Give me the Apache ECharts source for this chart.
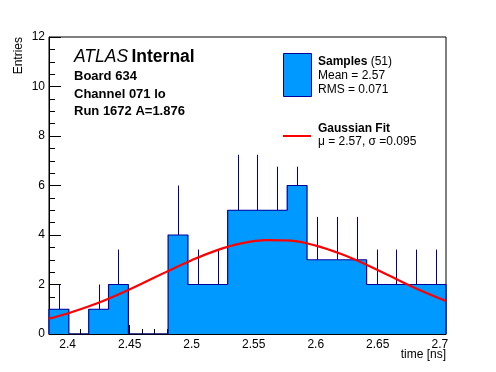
<!DOCTYPE html>
<html><head><meta charset="utf-8">
<script src="https://cdn.jsdelivr.net/npm/echarts@6/dist/echarts.min.js"></script>
<style>html,body{margin:0;padding:0;background:#fff}#c{width:496px;height:372px}</style>
</head><body><div id="c"></div>
<script>
// ---- data ----
var binEdges = [2.385, 2.401, 2.417, 2.433, 2.449, 2.465, 2.481, 2.497, 2.513, 2.529, 2.545,
                2.561, 2.577, 2.593, 2.609, 2.625, 2.641, 2.657, 2.673, 2.689, 2.705];
var counts   = [1, 0, 1, 2, 0, 0, 4, 2, 2, 5, 5, 5, 6, 3, 3, 3, 2, 2, 2, 2];
var errTop   = [2, 0, 2, 3.41, 0, 0, 6, 3.41, 3.41, 7.24, 7.24, 6.76, 6.76, 4.73, 4.73, 4.73, 3.41, 3.41, 3.41, 3.41];
var fitX = [2.385, 2.40, 2.42, 2.44, 2.46, 2.48, 2.50, 2.52, 2.54, 2.56, 2.58, 2.60, 2.62, 2.64, 2.66, 2.68, 2.705];
var fitY = [0.62, 0.83, 1.17, 1.58, 2.04, 2.52, 2.98, 3.38, 3.66, 3.79, 3.77, 3.57, 3.24, 2.82, 2.34, 1.86, 1.33];
var xMajorTicks = [2.4, 2.45, 2.5, 2.55, 2.6, 2.65, 2.7];
var xMinorTicks = [2.39, 2.41, 2.42, 2.43, 2.44, 2.46, 2.47, 2.48, 2.49, 2.51, 2.52, 2.53, 2.54,
                   2.56, 2.57, 2.58, 2.59, 2.61, 2.62, 2.63, 2.64, 2.66, 2.67, 2.68, 2.69];
var xMin = 2.385, xMax = 2.705, yMin = 0, yMax = 12, yStep = 2;

var FONT = "'Liberation Sans', Arial, Helvetica, sans-serif";
var FILL = '#0099ff', EDGE = '#000099';

var barData = [], outline = [[binEdges[0], 0]], errData = [];
for (var i = 0; i < counts.length; i++) {
  barData.push([binEdges[i], binEdges[i + 1], counts[i]]);
  outline.push([binEdges[i], counts[i]]);
  if (errTop[i] > counts[i]) errData.push([(binEdges[i] + binEdges[i + 1]) / 2, counts[i], errTop[i]]);
}
outline.push([binEdges[binEdges.length - 1], counts[counts.length - 1]]);
outline.push([binEdges[binEdges.length - 1], 0]);
var fitData = fitX.map(function (x, k) { return [x, fitY[k]]; });

var chart = echarts.init(document.getElementById('c'), null, {renderer: 'canvas'});
chart.setOption({
  animation: false,
  grid: {left: 49, top: 37, width: 397, height: 297, show: true, borderColor: '#000', borderWidth: 1, backgroundColor: 'transparent'},
  xAxis: [{
    type: 'value', min: xMin, max: xMax, position: 'bottom',
    axisLine: {show: true, onZero: false, lineStyle: {color: '#000', width: 1}},
    axisTick: {show: true, inside: true, length: 9, customValues: xMajorTicks, lineStyle: {color: '#000'}},
    axisLabel: {show: true, customValues: xMajorTicks, color: '#000', fontFamily: FONT, fontSize: 12, margin: 5,
      formatter: function (v) { return String(+v.toFixed(3)); }},
    splitLine: {show: false}
  }, {
    type: 'value', min: xMin, max: xMax, position: 'bottom',
    axisLine: {show: false},
    axisTick: {show: true, inside: true, length: 5, customValues: xMinorTicks, lineStyle: {color: '#000'}},
    axisLabel: {show: false},
    splitLine: {show: false}
  }],
  yAxis: {
    type: 'value', min: yMin, max: yMax, interval: yStep,
    axisLine: {show: true, lineStyle: {color: '#000', width: 1}},
    axisTick: {show: true, inside: true, length: 12, lineStyle: {color: '#000'}},
    minorTick: {show: true, splitNumber: 4, length: 6, lineStyle: {color: '#000'}},
    axisLabel: {color: '#000', fontFamily: FONT, fontSize: 12, margin: 4},
    splitLine: {show: false}
  },
  series: [{
    type: 'custom', xAxisIndex: 0, data: barData, clip: true, z: 1,
    renderItem: function (params, api) {
      var p0 = api.coord([api.value(0), api.value(2)]);
      var p1 = api.coord([api.value(1), 0]);
      var x0 = Math.round(p0[0]), x1 = Math.round(p1[0]);
      var y0 = Math.round(p0[1]), y1 = Math.round(p1[1]);
      return {type: 'rect', shape: {x: x0, y: y0, width: x1 - x0, height: y1 - y0},
        style: {fill: FILL, stroke: null}};
    }
  }, {
    type: 'line', xAxisIndex: 0, data: outline, step: 'end', symbol: 'none', z: 2,
    lineStyle: {color: EDGE, width: 1.2}
  }, {
    type: 'custom', xAxisIndex: 0, data: errData, z: 3,
    renderItem: function (params, api) {
      var a = api.coord([api.value(0), api.value(1)]);
      var b = api.coord([api.value(0), api.value(2)]);
      var x = Math.round(a[0]) + 0.5;
      return {type: 'line', shape: {x1: x, y1: a[1], x2: x, y2: b[1]}, style: {stroke: EDGE, lineWidth: 1}};
    }
  }, {
    type: 'line', xAxisIndex: 0, data: fitData, smooth: 0.35, symbol: 'none', z: 4,
    lineStyle: {color: '#ff0000', width: 2.2}
  }],
  graphic: [
    {type: 'text', x: 19, y: 37, rotation: Math.PI / 2,
      style: {text: 'Entries', font: '12px ' + FONT, fill: '#000', align: 'right', verticalAlign: 'middle'}},
    {type: 'text', x: 446, y: 355,
      style: {text: 'time [ns]', font: '12px ' + FONT, fill: '#000', align: 'right', verticalAlign: 'middle'}},
    {type: 'text', x: 74, y: 57,
      style: {text: '{a|ATLAS} {b|Internal}', verticalAlign: 'middle',
        rich: {a: {font: 'italic 17.5px ' + FONT, fill: '#000'}, b: {font: 'bold 17.5px ' + FONT, fill: '#000'}}}},
    {type: 'text', x: 74, y: 76, style: {text: 'Board 634', font: 'bold 13px ' + FONT, fill: '#000', verticalAlign: 'middle'}},
    {type: 'text', x: 74, y: 94, style: {text: 'Channel 071 lo', font: 'bold 13px ' + FONT, fill: '#000', verticalAlign: 'middle'}},
    {type: 'text', x: 74, y: 111, style: {text: 'Run 1672 A=1.876', font: 'bold 13px ' + FONT, fill: '#000', verticalAlign: 'middle'}},
    {type: 'rect', shape: {x: 283.5, y: 53.5, width: 28, height: 43}, style: {fill: FILL, stroke: EDGE, lineWidth: 1}},
    {type: 'text', x: 318, y: 62,
      style: {text: '{b|Samples} {n|(51)}', verticalAlign: 'middle',
        rich: {b: {font: 'bold 12px ' + FONT, fill: '#000'}, n: {font: '12px ' + FONT, fill: '#000'}}}},
    {type: 'text', x: 318, y: 76, style: {text: 'Mean = 2.57', font: '12px ' + FONT, fill: '#000', verticalAlign: 'middle'}},
    {type: 'text', x: 318, y: 90, style: {text: 'RMS = 0.071', font: '12px ' + FONT, fill: '#000', verticalAlign: 'middle'}},
    {type: 'line', shape: {x1: 283, y1: 136, x2: 311, y2: 136}, style: {stroke: '#ff0000', lineWidth: 2}},
    {type: 'text', x: 318, y: 129, style: {text: 'Gaussian Fit', font: 'bold 12px ' + FONT, fill: '#000', verticalAlign: 'middle'}},
    {type: 'text', x: 318, y: 142, style: {text: 'μ = 2.57, σ =0.095', font: '12px ' + FONT, fill: '#000', verticalAlign: 'middle'}}
  ]
});
</script></body></html>
